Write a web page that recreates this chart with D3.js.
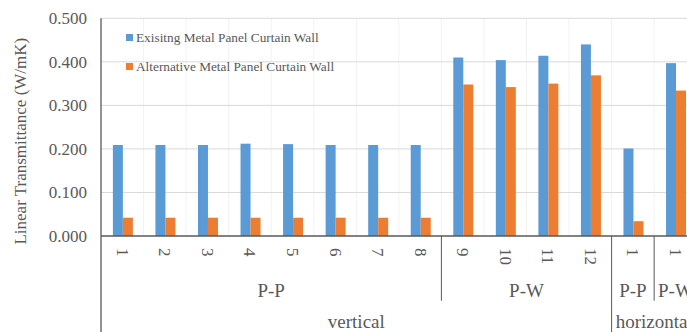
<!DOCTYPE html>
<html><head><meta charset="utf-8">
<script src="https://cdn.jsdelivr.net/npm/d3@7"></script>
</head>
<body style="margin:0;padding:0;background:#fff;overflow:hidden;"><svg id="c" width="687" height="332"></svg>
<script>
const categories = ["1","2","3","4","5","6","7","8","9","10","11","12","1","1"];
const subGroups = [
  {label:"P-P", start:0, end:8},
  {label:"P-W", start:8, end:12},
  {label:"P-P", start:12, end:13},
  {label:"P-W", start:13, end:14}
];
const topGroups = [
  {label:"vertical", start:0, end:12},
  {label:"horizontal", start:12, end:14}
];
const seriesNames = ["Exisitng Metal Panel Curtain Wall","Alternative Metal Panel Curtain Wall"];
const existing = [0.209,0.209,0.209,0.212,0.211,0.209,0.209,0.209,0.410,0.404,0.414,0.440,0.201,0.397];
const alternative = [0.042,0.042,0.042,0.042,0.042,0.042,0.042,0.042,0.348,0.342,0.350,0.369,0.034,0.334];
const yTicks = [0,0.1,0.2,0.3,0.4,0.5];
const colors = ["#5B9BD5","#ED7D31"];

const FONT = "Liberation Serif";
const TXT = "#595959";
const svg = d3.select("#c");
const mLeft = 101, mTop = 18.3, mBottom = 236, catW = 42.55;
const mRight = mLeft + catW*categories.length;
const x = d3.scaleBand().domain(d3.range(categories.length)).range([mLeft,mRight]).padding(0);
const y = d3.scaleLinear().domain([0,0.5]).range([mBottom,mTop]);
const xs = d3.scaleBand().domain([0,1]).range([0,20]).padding(0);

function styleText(sel, size){
  return sel.attr("font-family",FONT).style("font-family",FONT).style("font-size",size+"px").style("fill",TXT);
}

// vertical faint gridlines
svg.append("g").selectAll("line").data(d3.range(1,categories.length+1)).join("line")
  .attr("x1",d=>mLeft+d*catW).attr("x2",d=>mLeft+d*catW).attr("y1",mTop).attr("y2",mBottom)
  .attr("stroke","#f2f2f2").attr("stroke-width",1);
// horizontal gridlines
svg.append("g").selectAll("line").data(yTicks.slice(1)).join("line")
  .attr("x1",mLeft).attr("x2",mRight).attr("y1",d=>y(d)).attr("y2",d=>y(d))
  .attr("stroke","#d9d9d9").attr("stroke-width",1);

// bars
const series = [existing, alternative];
series.forEach((vals,si)=>{
  svg.append("g").selectAll("rect").data(vals).join("rect")
    .attr("x",(d,i)=>x(i)+x.bandwidth()/2-10+0.6+xs(si))
    .attr("width",xs.bandwidth())
    .attr("y",d=>y(d)).attr("height",d=>mBottom-y(d))
    .attr("fill",colors[si]);
});

// y axis labels
const yAxis = d3.axisLeft(y).tickValues(yTicks).tickFormat(d3.format(".3f")).tickSize(0).tickPadding(14);
const gy = svg.append("g").attr("transform",`translate(${mLeft},0)`).call(yAxis);
gy.attr("font-family",FONT);
gy.select(".domain").remove();
styleText(gy.selectAll("text"),17);

// axes lines
svg.append("line").attr("x1",mLeft).attr("x2",mLeft).attr("y1",mTop).attr("y2",332).attr("stroke","#595959").attr("stroke-width",1.3);
svg.append("line").attr("x1",mLeft).attr("x2",mRight).attr("y1",mBottom).attr("y2",mBottom).attr("stroke","#595959").attr("stroke-width",1.3);

// category labels
styleText(svg.append("g").selectAll("text").data(categories).join("text")
  .attr("transform",(d,i)=>`translate(${x(i)+x.bandwidth()/2},248) rotate(90)`)
  .attr("dominant-baseline","central").attr("text-anchor","start")
  .text(d=>d),17);

// sub group separators & labels
const subBounds = [8,13];
svg.append("g").selectAll("line").data(subBounds).join("line")
  .attr("x1",d=>mLeft+d*catW).attr("x2",d=>mLeft+d*catW).attr("y1",mBottom).attr("y2",300.7)
  .attr("stroke","#595959").attr("stroke-width",1);
styleText(svg.append("g").selectAll("text").data(subGroups).join("text")
  .attr("x",d=>mLeft+(d.start+d.end)/2*catW).attr("y",296.5)
  .attr("text-anchor","middle").text(d=>d.label),19);

// top group separators & labels
svg.append("line").attr("x1",mLeft+12*catW).attr("x2",mLeft+12*catW).attr("y1",mBottom).attr("y2",332)
  .attr("stroke","#595959").attr("stroke-width",1);
styleText(svg.append("g").selectAll("text").data(topGroups).join("text")
  .attr("x",d=>mLeft+(d.start+d.end)/2*catW).attr("y",328)
  .attr("text-anchor","middle").text(d=>d.label),19);

// y title
styleText(svg.append("text").attr("transform",`translate(20,${(mTop+mBottom)/2+14}) rotate(-90)`)
  .attr("text-anchor","middle").attr("dominant-baseline","central")
  .text("Linear Transmittance (W/mK)"),17);

// legend
const lg = svg.append("g");
seriesNames.forEach((n,i)=>{
  const ly = 37.5 + i*29;
  lg.append("rect").attr("x",126).attr("y",ly-3.5).attr("width",7).attr("height",7).attr("fill",colors[i]);
  styleText(lg.append("text").attr("x",136).attr("y",ly).attr("dominant-baseline","central").text(n),13.3);
});
</script></body></html>
